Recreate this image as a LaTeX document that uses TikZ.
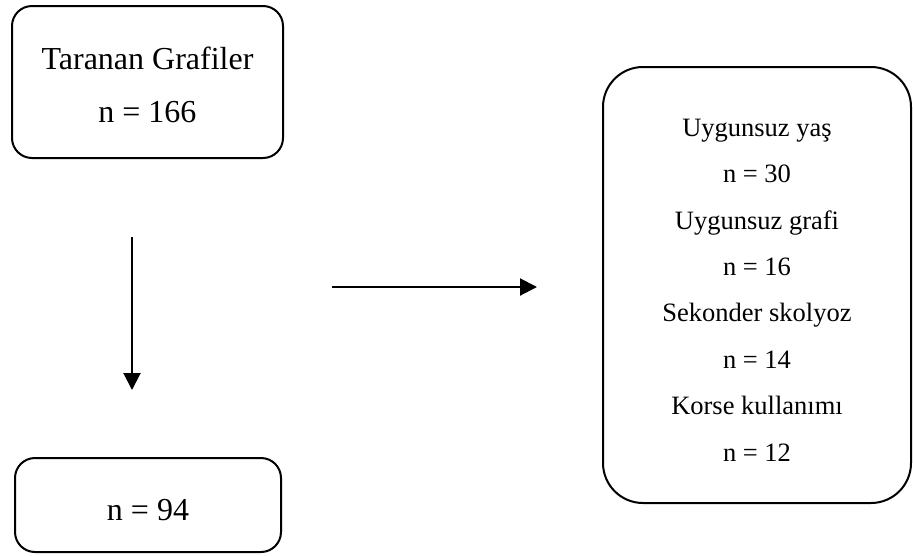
\documentclass[tikz,border=0pt]{standalone}
\usepackage{fontspec}
\setmainfont{Liberation Serif}
\usetikzlibrary{arrows.meta,positioning}

\begin{document}
\begin{tikzpicture}[
  x=1pt, y=-1pt,
  box/.style={draw, line width=2pt, rounded corners=20pt, align=center, inner sep=0pt},
  flow/.style={-{Triangle[length=17pt, width=17pt]}, line width=2pt}
]
  \useasboundingbox (0,0) rectangle (913,555);

  % Boxes (pixel coordinates of the reference, y downwards)
  \node[box, minimum width=271pt, minimum height=152pt, font=\fontsize{32}{53}\selectfont] (screened) at (147.5,82) {\rule{0pt}{29pt}Taranan Grafiler\\n = 166};
  \node[box, minimum width=266pt, minimum height=94pt, font=\fontsize{32}{40}\selectfont] (included) at (148,505) {\rule{0pt}{31pt}n = 94};
  \node[box, rounded corners=40pt, minimum width=308pt, minimum height=436pt, font=\fontsize{26.5}{46.4}\selectfont] (excluded) at (757,285)
    {\rule{0pt}{27.5pt}Uygunsuz yaş\\n = 30\\Uygunsuz grafi\\n = 16\\Sekonder skolyoz\\n = 14\\Korse kullanımı\\n = 12};

  % Free arrows
  \coordinate (downstart) at (132,237);
  \coordinate (downend) at (132,390);
  \coordinate (rightstart) at (332,287);
  \coordinate (rightend) at (537,287);
  \draw[flow] (downstart) -- (downend);
  \draw[flow] (rightstart) -- (rightend);
\end{tikzpicture}
\end{document}
